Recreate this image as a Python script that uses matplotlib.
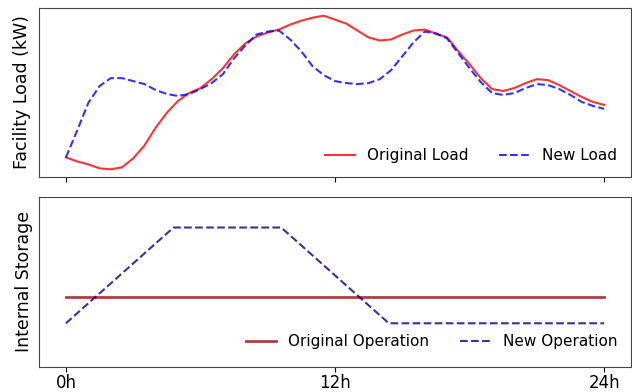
import numpy as np
import matplotlib
matplotlib.use('Agg')
import matplotlib.pyplot as plt

# facility load every half hour (arbitrary kW units)
hours = np.arange(0, 24.5, 0.5)
original_load = [23, 19, 16, 12, 11, 13, 22, 35, 53, 68, 80, 88, 93, 102, 113, 127,
                 138, 145, 149, 152, 157, 161, 164, 166, 162, 158, 151, 144, 141, 142,
                 147, 151, 152, 148, 144, 130, 117, 103, 92, 90, 93, 98, 102, 101,
                 96, 90, 84, 79, 76]
new_load = [23, 50, 78, 95, 103, 103, 100, 97, 91, 87, 85, 87, 92, 98, 107, 123,
            136, 147, 150, 151, 142, 130, 115, 106, 100, 98, 97, 98, 102, 111,
            125, 139, 150, 148, 143, 128, 113, 99, 88, 86, 88, 93, 97, 96,
            92, 86, 79, 75, 72]

# storage operation
op_hours = [0, 4.8, 9.6, 14.4, 24]
original_storage = [0.41, 0.41, 0.41, 0.41, 0.41]
new_storage = [0.255, 0.82, 0.82, 0.255, 0.255]

tick_pos = [0, 12, 24]
tick_labels = ['0h', '12h', '24h']

fig = plt.figure(figsize=(6.32, 3.92), dpi=100)
ax1 = fig.add_axes([39 / 632, 1 - 177 / 392, 592 / 632, 169 / 392])
ax2 = fig.add_axes([39 / 632, 1 - 366.5 / 392, 592 / 632, 169.5 / 392], sharex=ax1)

ax1.plot(hours, original_load, color='red', alpha=0.8, lw=1.5, label='Original Load')
ax1.plot(hours, new_load, color='blue', alpha=0.8, lw=1.5, ls='--', label='New Load')
ax1.set_ylabel('Facility Load (kW)', fontsize=12.5, labelpad=6)
ax1.set_yticks([])
ax1.tick_params(axis='x', labelbottom=False)
ax1.legend(loc='lower right', ncol=2, frameon=False, fontsize=11,
           bbox_to_anchor=(1.0, 0.0), columnspacing=2.0)

ax2.plot(op_hours, original_storage, color='brown', alpha=0.9, lw=2, label='Original Operation')
ax2.plot(op_hours, new_storage, color='darkblue', alpha=0.8, lw=1.5, ls='--', label='New Operation')
ax2.set_ylim(0, 1)
ax2.set_ylabel('Internal Storage', fontsize=12.5, labelpad=4)
ax2.set_yticks([])
ax2.set_xticks(tick_pos)
ax2.set_xticklabels(tick_labels, fontsize=12)
ax2.tick_params(axis='x', pad=2)
ax2.legend(loc='lower right', ncol=2, frameon=False, fontsize=11,
           bbox_to_anchor=(1.0, 0.02), columnspacing=2.0)

for ax in (ax1, ax2):
    for sp in ax.spines.values():
        sp.set_color('#444444')

fig.savefig('out.png', dpi=100)
